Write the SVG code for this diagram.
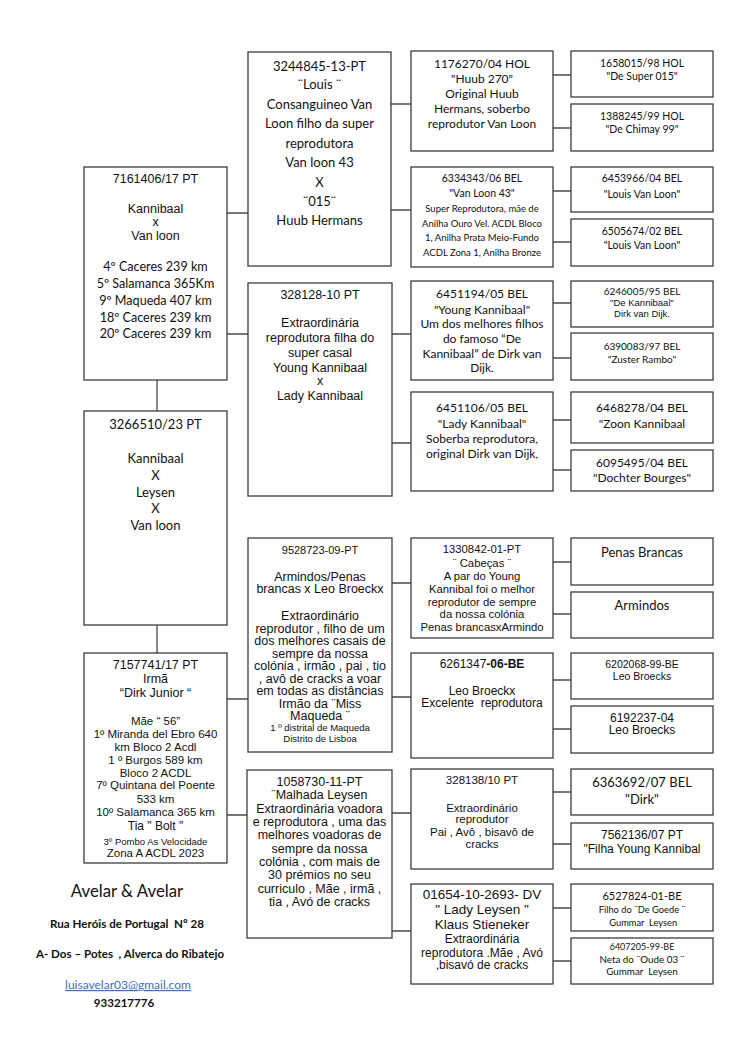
<svg xmlns="http://www.w3.org/2000/svg" width="750" height="1060" viewBox="0 0 750 1060">
<style>
.b{fill:#fff;stroke:#3c3c3c;stroke-width:1.3}
.c{stroke:#4a4a4a;stroke-width:1.3;fill:none}
text{fill:#111;text-anchor:middle;white-space:pre}
.a{font-family:"Liberation Sans",Arial,sans-serif}
.k{font-family:Lato,"Open Sans",sans-serif}
.f{font-family:Lato,"Open Sans",sans-serif;font-weight:bold;font-size:11.6px}
</style>
<rect width="750" height="1060" fill="#fff"/>
<g id="connectors" class="c">
<path d="M157 380V411M157 625V653"/>
<path d="M227 213H248M227 334H248"/>
<path d="M227 699H248M227 815H248"/>
<path d="M391 104H411M391 210H411"/>
<path d="M392 334H411M392 443H411"/>
<path d="M392 583H411M392 697H411"/>
<path d="M392 813H411M392 931H411"/>
<path d="M553 75H571M553 128H571M553 191H571M553 242H571"/>
<path d="M553 303H571M553 358H571M553 420H571M553 470H571"/>
<path d="M553 562H571M553 614H571M553 680H571M553 729H571"/>
<path d="M553 792H571M553 844H571M553 908H571M553 961H571"/>
</g>
<g id="n7161406">
<rect class="b" x="84" y="167" width="143" height="213"/>
<text class="a" font-size="12.5" x="155.5" y="183">7161406/17 PT</text>
<text class="a" font-size="12.5" x="155.5" y="213">Kannibaal</text>
<text class="a" font-size="12.5" x="155.5" y="226">x</text>
<text class="a" font-size="12.5" x="155.5" y="240">Van loon</text>
<text class="k" font-size="12.6" x="155.5" y="271">4º Caceres 239 km</text>
<text class="k" font-size="12.6" x="155.5" y="288">5º Salamanca 365Km</text>
<text class="k" font-size="12.6" x="155.5" y="305">9º Maqueda 407 km</text>
<text class="k" font-size="12.6" x="155.5" y="322">18º Caceres 239 km</text>
<text class="k" font-size="12.6" x="155.5" y="338">20º Caceres 239 km</text>
</g>
<g id="n3266510">
<rect class="b" x="84" y="411" width="143" height="214"/>
<text class="k" font-size="13" x="155.5" y="429">3266510/23 PT</text>
<text class="k" font-size="13" x="155.5" y="463">Kannibaal</text>
<text class="k" font-size="13" x="155.5" y="480">X</text>
<text class="k" font-size="13" x="155.5" y="497">Leysen</text>
<text class="k" font-size="13" x="155.5" y="513">X</text>
<text class="k" font-size="13" x="155.5" y="530">Van loon</text>
</g>
<g id="n7157741">
<rect class="b" x="84" y="653" width="143" height="210"/>
<text class="a" font-size="12.5" x="155.5" y="669">7157741/17 PT</text>
<text class="a" font-size="12.5" x="155.5" y="683">Irmã</text>
<text class="a" font-size="12.5" x="155.5" y="697">“Dirk Junior “</text>
<text class="a" font-size="11.5" x="155.5" y="725">Mãe “ 56”</text>
<text class="a" font-size="11.5" x="155.5" y="738">1º Miranda del Ebro 640</text>
<text class="a" font-size="11.5" x="155.5" y="751">km Bloco 2 Acdl</text>
<text class="a" font-size="11.5" x="155.5" y="764">1 º Burgos 589 km</text>
<text class="a" font-size="11.5" x="155.5" y="777">Bloco 2 ACDL</text>
<text class="a" font-size="11.5" x="155.5" y="789">7º Quintana del Poente</text>
<text class="a" font-size="11.5" x="155.5" y="803">533 km</text>
<text class="a" font-size="11.5" x="155.5" y="816">10º Salamanca 365 km</text>
<text class="a" font-size="12" x="155.5" y="830">Tia " Bolt "</text>
<text class="a" font-size="9.5" x="155.5" y="845">3º Pombo As Velocidade</text>
<text class="a" font-size="11.5" x="155.5" y="857">Zona A ACDL 2023</text>
</g>
<g id="n3244845">
<rect class="b" x="248" y="52" width="143" height="214"/>
<text class="k" font-size="13" x="319.5" y="71">3244845-13-PT</text>
<text class="k" font-size="13" x="319.5" y="89">¨Louis ¨</text>
<text class="k" font-size="13" x="319.5" y="109">Consanguineo Van</text>
<text class="k" font-size="13" x="319.5" y="128">Loon filho da super</text>
<text class="k" font-size="13" x="319.5" y="148">reprodutora</text>
<text class="k" font-size="13" x="319.5" y="167">Van loon 43</text>
<text class="k" font-size="13" x="319.5" y="187">X</text>
<text class="k" font-size="13" x="319.5" y="206">¨015¨</text>
<text class="k" font-size="13" x="319.5" y="225">Huub Hermans</text>
</g>
<g id="n328128">
<rect class="b" x="248" y="283" width="144" height="213"/>
<text class="a" font-size="12.5" x="320" y="299">328128-10 PT</text>
<text class="a" font-size="12.5" x="320" y="327">Extraordinária</text>
<text class="a" font-size="12.5" x="320" y="342">reprodutora filha do</text>
<text class="a" font-size="12.5" x="320" y="357">super casal</text>
<text class="a" font-size="12.5" x="320" y="372">Young Kannibaal</text>
<text class="a" font-size="12.5" x="320" y="385">x</text>
<text class="a" font-size="12.5" x="320" y="400">Lady Kannibaal</text>
</g>
<g id="n9528723">
<rect class="b" x="248" y="538" width="144" height="214"/>
<text class="a" font-size="11" x="320" y="554">9528723-09-PT</text>
<text class="a" font-size="12.5" x="320" y="581">Armindos/Penas</text>
<text class="a" font-size="12.5" x="320" y="593">brancas x Leo Broeckx</text>
<text class="a" font-size="12.5" x="320" y="620">Extraordinário</text>
<text class="a" font-size="12.5" x="320" y="633">reprodutor , filho de um</text>
<text class="a" font-size="12.5" x="320" y="645">dos melhores casais de</text>
<text class="a" font-size="12.5" x="320" y="658">sempre da nossa</text>
<text class="a" font-size="12.5" x="320" y="670">colónia , irmão , pai , tio</text>
<text class="a" font-size="12.5" x="320" y="683">, avô de cracks a voar</text>
<text class="a" font-size="12.5" x="320" y="695">em todas as distâncias</text>
<text class="a" font-size="12.5" x="320" y="708">Irmão da ¨Miss</text>
<text class="a" font-size="12.5" x="320" y="720">Maqueda ¨</text>
<text class="a" font-size="9.5" x="320" y="731">1 º distrital de Maqueda</text>
<text class="a" font-size="9.5" x="320" y="742">Distrito de Lisboa</text>
</g>
<g id="n1058730">
<rect class="b" x="247" y="770" width="145" height="168"/>
<text class="a" font-size="12.5" x="319.5" y="786">1058730-11-PT</text>
<text class="a" font-size="12.5" x="319.5" y="799">¨Malhada Leysen</text>
<text class="a" font-size="12.5" x="319.5" y="813">Extraordinária voadora</text>
<text class="a" font-size="12.5" x="319.5" y="826">e reprodutora , uma das</text>
<text class="a" font-size="12.5" x="319.5" y="839">melhores voadoras de</text>
<text class="a" font-size="12.5" x="319.5" y="853">sempre da nossa</text>
<text class="a" font-size="12.5" x="319.5" y="866">colónia , com mais de</text>
<text class="a" font-size="12.5" x="319.5" y="879">30 prémios no seu</text>
<text class="a" font-size="12.5" x="319.5" y="893">curriculo , Mãe , irmã ,</text>
<text class="a" font-size="12.5" x="319.5" y="906">tia , Avó de cracks</text>
</g>
<g id="n1176270">
<rect class="b" x="411" y="51" width="142" height="100"/>
<text class="k" font-size="12" x="482" y="68">1176270/04 HOL</text>
<text class="k" font-size="12" x="482" y="83">"Huub 270"</text>
<text class="k" font-size="12" x="482" y="98">Original Huub</text>
<text class="k" font-size="12" x="482" y="113">Hermans, soberbo</text>
<text class="k" font-size="12" x="482" y="128">reprodutor Van Loon</text>
</g>
<g id="n6334343">
<rect class="b" x="411" y="167" width="142" height="100"/>
<text class="k" font-size="10.5" x="482" y="182">6334343/06 BEL</text>
<text class="k" font-size="10.5" x="482" y="197">"Van Loon 43"</text>
<text class="k" font-size="9.5" x="482" y="212">Super Reprodutora, mãe de</text>
<text class="k" font-size="9.5" x="482" y="227">Anilha Ouro Vel. ACDL Bloco</text>
<text class="k" font-size="9.5" x="482" y="241">1, Anilha Prata Meio-Fundo</text>
<text class="k" font-size="9.5" x="482" y="256">ACDL Zona 1, Anilha Bronze</text>
</g>
<g id="n6451194">
<rect class="b" x="411" y="281" width="142" height="99"/>
<text class="k" font-size="12" x="482" y="298">6451194/05 BEL</text>
<text class="k" font-size="12" x="482" y="314">"Young Kannibaal"</text>
<text class="k" font-size="12" x="482" y="328">Um dos melhores filhos</text>
<text class="k" font-size="12" x="482" y="343">do famoso “De</text>
<text class="k" font-size="12" x="482" y="358">Kannibaal” de Dirk van</text>
<text class="k" font-size="12" x="482" y="372">Dijk.</text>
</g>
<g id="n6451106">
<rect class="b" x="411" y="392" width="142" height="99"/>
<text class="k" font-size="12" x="482" y="412">6451106/05 BEL</text>
<text class="k" font-size="12" x="482" y="428">"Lady Kannibaal"</text>
<text class="k" font-size="12" x="482" y="443">Soberba reprodutora,</text>
<text class="k" font-size="12" x="482" y="458">original Dirk van Dijk,</text>
</g>
<g id="n1330842">
<rect class="b" x="411" y="538" width="142" height="100"/>
<text class="a" font-size="11.3" x="482" y="553">1330842-01-PT</text>
<text class="a" font-size="11.3" x="482" y="567">¨ Cabeças ¨</text>
<text class="a" font-size="11.3" x="482" y="580">A par do Young</text>
<text class="a" font-size="11.3" x="482" y="593">Kannibal foi o melhor</text>
<text class="a" font-size="11.3" x="482" y="606">reprodutor de sempre</text>
<text class="a" font-size="11.3" x="482" y="618">da nossa colónia</text>
<text class="a" font-size="11.3" x="482" y="631">Penas brancasxArmindo</text>
</g>
<g id="n6261347">
<rect class="b" x="411" y="653" width="142" height="105"/>
<text class="a" font-size="12" x="482" y="668">6261347<tspan font-weight="bold">-06-BE</tspan></text>
<text class="a" font-size="12" x="482" y="695">Leo Broeckx</text>
<text class="a" font-size="12" x="482" y="707">Excelente  reprodutora</text>
</g>
<g id="n328138">
<rect class="b" x="411" y="769" width="142" height="100"/>
<text class="a" font-size="11.5" x="482" y="784">328138/10 PT</text>
<text class="a" font-size="11.5" x="482" y="812">Extraordinário</text>
<text class="a" font-size="11.5" x="482" y="823">reprodutor</text>
<text class="a" font-size="11.5" x="482" y="836">Pai , Avô , bisavô de</text>
<text class="a" font-size="11.5" x="482" y="848">cracks</text>
</g>
<g id="n01654">
<rect class="b" x="411" y="884" width="142" height="100"/>
<text class="a" font-size="13.5" x="482" y="899">01654-10-2693- DV</text>
<text class="a" font-size="13.5" x="482" y="914">" Lady Leysen "</text>
<text class="a" font-size="13.5" x="482" y="929">Klaus Stieneker</text>
<text class="a" font-size="12" x="482" y="943">Extraordinária</text>
<text class="a" font-size="12" x="482" y="957">reprodutora .Mãe , Avó</text>
<text class="a" font-size="12" x="482" y="969">,bisavó de cracks</text>
</g>
<g id="n1658015">
<rect class="b" x="571" y="51" width="142" height="46"/>
<text class="k" font-size="10.5" x="642" y="67">1658015/98 HOL</text>
<text class="k" font-size="10.5" x="642" y="80">"De Super 015"</text>
</g>
<g id="n1388245">
<rect class="b" x="571" y="104" width="142" height="47"/>
<text class="k" font-size="10.5" x="642" y="120">1388245/99 HOL</text>
<text class="k" font-size="10.5" x="642" y="133">"De Chimay 99"</text>
</g>
<g id="n6453966">
<rect class="b" x="571" y="167" width="142" height="45"/>
<text class="k" font-size="10.5" x="642" y="182">6453966/04 BEL</text>
<text class="k" font-size="10.5" x="642" y="198">"Louis Van Loon"</text>
</g>
<g id="n6505674">
<rect class="b" x="571" y="219" width="142" height="47"/>
<text class="k" font-size="10.5" x="642" y="235">6505674/02 BEL</text>
<text class="k" font-size="10.5" x="642" y="249">"Louis Van Loon"</text>
</g>
<g id="n6246005">
<rect class="b" x="571" y="281" width="142" height="46"/>
<text class="k" font-size="10" x="642" y="295">6246005/95 BEL</text>
<text class="a" font-size="9.5" x="642" y="306">"De Kannibaal"</text>
<text class="a" font-size="9.5" x="642" y="317">Dirk van Dijk.</text>
</g>
<g id="n6390083">
<rect class="b" x="571" y="333" width="142" height="47"/>
<text class="k" font-size="10" x="642" y="350">6390083/97 BEL</text>
<text class="k" font-size="10" x="642" y="363">"Zuster Rambo"</text>
</g>
<g id="n6468278">
<rect class="b" x="571" y="392" width="142" height="51"/>
<text class="k" font-size="12" x="642" y="412">6468278/04 BEL</text>
<text class="k" font-size="12" x="642" y="428">"Zoon Kannibaal</text>
</g>
<g id="n6095495">
<rect class="b" x="571" y="450" width="142" height="41"/>
<text class="k" font-size="12" x="642" y="467">6095495/04 BEL</text>
<text class="k" font-size="12" x="642" y="482">"Dochter Bourges"</text>
</g>
<g id="nPenas">
<rect class="b" x="571" y="538" width="142" height="47"/>
<text class="k" font-size="13" x="642" y="557">Penas Brancas</text>
</g>
<g id="nArmindos">
<rect class="b" x="571" y="592" width="142" height="46"/>
<text class="k" font-size="13" x="642" y="610">Armindos</text>
</g>
<g id="n6202068">
<rect class="b" x="571" y="653" width="142" height="46"/>
<text class="a" font-size="10.5" x="642" y="668">6202068-99-BE</text>
<text class="a" font-size="10.5" x="642" y="680">Leo Broecks</text>
</g>
<g id="n6192237">
<rect class="b" x="571" y="706" width="142" height="47"/>
<text class="a" font-size="12" x="642" y="722">6192237-04</text>
<text class="a" font-size="12" x="642" y="734">Leo Broecks</text>
</g>
<g id="n6363692">
<rect class="b" x="571" y="769" width="142" height="46"/>
<text class="k" font-size="13" x="642" y="787">6363692/07 BEL</text>
<text class="k" font-size="13" x="642" y="804">"Dirk"</text>
</g>
<g id="n7562136">
<rect class="b" x="571" y="823" width="142" height="46"/>
<text class="a" font-size="12" x="642" y="839">7562136/07 PT</text>
<text class="a" font-size="12" x="642" y="853">"Filha Young Kannibal</text>
</g>
<g id="n6527824">
<rect class="b" x="571" y="884" width="142" height="47"/>
<text class="k" font-size="11" x="642" y="900">6527824-01-BE</text>
<text class="k" font-size="9.3" x="642" y="913">Filho do ¨De Goede ¨</text>
<text class="k" font-size="9.3" x="642" y="926"> Gummar  Leysen</text>
</g>
<g id="n6407205">
<rect class="b" x="571" y="938" width="142" height="46"/>
<text class="k" font-size="9" x="642" y="950">6407205-99-BE</text>
<text class="k" font-size="9.8" x="642" y="963">Neta do ¨Oude 03 ¨</text>
<text class="k" font-size="9.8" x="642" y="975">Gummar  Leysen</text>
</g>
<g id="footer">
<text class="k" font-size="16.8" x="127" y="897">Avelar &amp; Avelar</text>
<text class="f" x="127" y="928">Rua Heróis de Portugal  Nº 28</text>
<text class="f" x="130" y="958">A- Dos – Potes  , Alverca do Ribatejo</text>
<text class="k" font-size="12" x="128" y="989" style="fill:#3b6fc6;text-decoration:underline">luisavelar03@gmail.com</text>
<text class="f" x="124" y="1007">933217776</text>
</g>
</svg>
